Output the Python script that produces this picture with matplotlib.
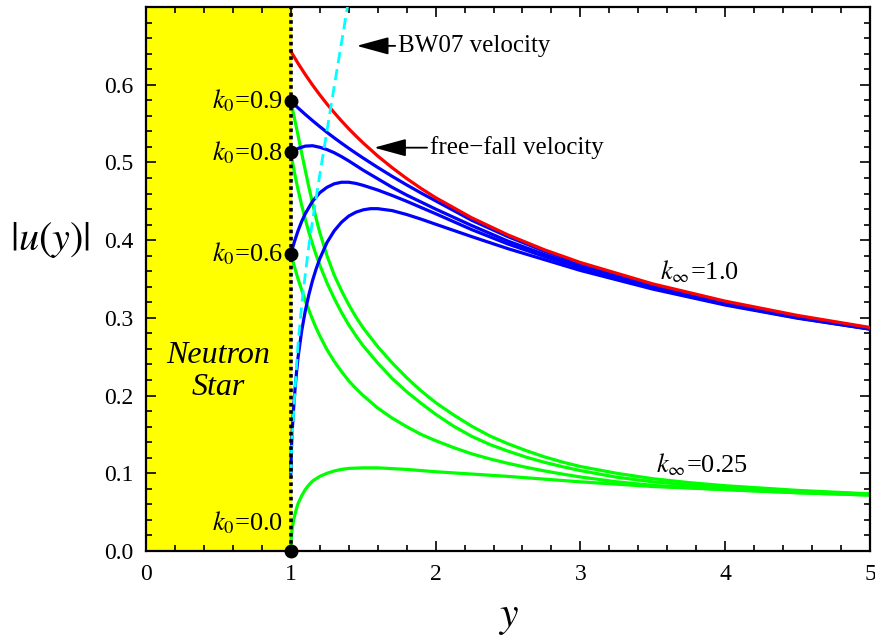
import numpy as np
import matplotlib.pyplot as plt
from matplotlib.ticker import MultipleLocator

plt.rcParams['font.family'] = ['Liberation Serif', 'DejaVu Serif']
plt.rcParams['mathtext.fontset'] = 'stix'

# radial grid shared by the k_inf = 1.0 profiles
y_grid = [1.0, 1.05, 1.1, 1.15, 1.2, 1.25, 1.3, 1.35, 1.4, 1.45, 1.5, 1.6, 1.7,
          1.8, 1.9, 2.0, 2.25, 2.5, 2.75, 3.0, 3.5, 4.0, 4.5, 5.0]

# free-fall velocity
u_ff = [0.643, 0.6275, 0.6131, 0.5996, 0.5870, 0.5751, 0.5640, 0.5534, 0.5434,
        0.5340, 0.5250, 0.5083, 0.4932, 0.4793, 0.4665, 0.4547, 0.4287, 0.4067,
        0.3877, 0.3712, 0.3437, 0.3215, 0.3031, 0.2876]

# k_inf = 1.0 solutions
u_blue_09 = [0.579, 0.5702, 0.5618, 0.5538, 0.5461, 0.5387, 0.5316, 0.5248, 0.5182,
             0.5118, 0.5056, 0.4936, 0.4821, 0.4711, 0.4606, 0.4506, 0.4255, 0.4045,
             0.3858, 0.3695, 0.3422, 0.3203, 0.3021, 0.2868]
u_blue_08 = [0.513, 0.518, 0.521, 0.5215, 0.5195, 0.5165, 0.5125, 0.5075, 0.502,
             0.496, 0.490, 0.479, 0.468, 0.458, 0.449, 0.440, 0.4187, 0.3987,
             0.3817, 0.3662, 0.3397, 0.3185, 0.3011, 0.2861]
y_blue_06 = [1.0, 1.025, 1.05, 1.075, 1.1, 1.15, 1.2, 1.25, 1.3, 1.35, 1.4, 1.45,
             1.5, 1.6, 1.7, 1.8, 1.9, 2.0, 2.25, 2.5, 2.75, 3.0, 3.5, 4.0, 4.5, 5.0]
u_blue_06 = [0.382, 0.398, 0.412, 0.424, 0.434, 0.450, 0.461, 0.468, 0.4725, 0.4745,
             0.4745, 0.473, 0.4705, 0.4645, 0.4575, 0.450, 0.442, 0.434, 0.4135,
             0.395, 0.379, 0.364, 0.3385, 0.3175, 0.300, 0.2855]
y_blue_low = [1.0, 1.005, 1.01, 1.02, 1.03, 1.04, 1.05, 1.075, 1.1, 1.125, 1.15,
              1.175, 1.2, 1.25, 1.3, 1.35, 1.4, 1.45, 1.5, 1.55, 1.6, 1.7, 1.8, 1.9,
              2.0, 2.25, 2.5, 2.75, 3.0, 3.5, 4.0, 4.5, 5.0]
u_blue_low = [0.100, 0.135, 0.155, 0.185, 0.210, 0.231, 0.249, 0.283, 0.309, 0.330,
              0.348, 0.363, 0.376, 0.397, 0.412, 0.423, 0.431, 0.436, 0.439, 0.4405,
              0.4405, 0.438, 0.433, 0.427, 0.4205, 0.4045, 0.389, 0.375, 0.361,
              0.337, 0.3165, 0.2995, 0.2855]

# k_inf = 0.25 solutions
y_green = [1.0, 1.025, 1.05, 1.075, 1.1, 1.125, 1.15, 1.175, 1.2, 1.25, 1.3, 1.35,
           1.4, 1.45, 1.5, 1.6, 1.7, 1.8, 1.9, 2.0, 2.125, 2.25, 2.375, 2.5, 2.625,
           2.75, 2.875, 3.0, 3.25, 3.5, 3.75, 4.0, 4.5, 5.0]
u_green_09 = [0.579, 0.557, 0.535, 0.512, 0.490, 0.468, 0.448, 0.428, 0.410, 0.380,
              0.355, 0.335, 0.317, 0.301, 0.287, 0.263, 0.242, 0.223, 0.206, 0.191,
              0.175, 0.1605, 0.148, 0.138, 0.1292, 0.1212, 0.1145, 0.1087,
              0.100, 0.093, 0.088, 0.084, 0.078, 0.0735]
u_green_08 = [0.513, 0.487, 0.465, 0.445, 0.427, 0.410, 0.395, 0.381, 0.368, 0.345,
              0.325, 0.307, 0.291, 0.277, 0.264, 0.242, 0.222, 0.205, 0.190, 0.176,
              0.1605, 0.1475, 0.137, 0.1285, 0.1208, 0.1142, 0.1085, 0.1035,
              0.095, 0.089, 0.085, 0.081, 0.077, 0.073]
u_green_06 = [0.382, 0.366, 0.350, 0.336, 0.322, 0.310, 0.298, 0.287, 0.277, 0.259,
              0.244, 0.231, 0.219, 0.209, 0.200, 0.184, 0.171, 0.160, 0.150, 0.142,
              0.133, 0.125, 0.1185, 0.1128, 0.1077, 0.1031, 0.0990, 0.0953,
              0.089, 0.0845, 0.0815, 0.079, 0.075, 0.072]
y_green_00 = [1.0, 1.002, 1.005, 1.01, 1.02, 1.03, 1.04, 1.05, 1.075, 1.1, 1.125,
              1.15, 1.2, 1.25, 1.3, 1.35, 1.4, 1.5, 1.6, 1.7, 1.8, 1.9, 2.0, 2.25,
              2.5, 2.75, 3.0, 3.5, 4.0, 4.5, 5.0]
u_green_00 = [0.0, 0.012, 0.020, 0.029, 0.040, 0.048, 0.055, 0.061, 0.071, 0.079,
              0.085, 0.090, 0.096, 0.100, 0.103, 0.105, 0.1063, 0.107, 0.107, 0.106,
              0.105, 0.1035, 0.102, 0.099, 0.096, 0.0925, 0.089, 0.083, 0.079,
              0.075, 0.072]

# BW07 velocity
y_bw07 = [1.0, 1.005, 1.01, 1.02, 1.03, 1.04, 1.05, 1.075, 1.1, 1.125, 1.15, 1.2,
          1.25, 1.3, 1.35, 1.4]
u_bw07 = [0.100, 0.128, 0.148, 0.180, 0.210, 0.239, 0.266, 0.316, 0.356, 0.393,
          0.425, 0.484, 0.541, 0.598, 0.654, 0.710]

# starting values at the stellar surface
k0_labels = ['0.9', '0.8', '0.6', '0.0']
u_start = [0.579, 0.513, 0.382, 0.0]

fig = plt.figure(figsize=(8.75, 6.39), dpi=100)
ax = fig.add_axes([146 / 875, 1 - 551 / 639, 724 / 875, 544 / 639])

ax.axvspan(0, 1, color='#FFFF00', zorder=0)

lw = 2.3
for u in (u_green_09, u_green_08, u_green_06):
    ax.plot(y_green, u, color='#00FF00', lw=lw, zorder=2)
ax.plot(y_green_00, u_green_00, color='#00FF00', lw=lw, zorder=2)
ax.plot(y_grid, u_blue_09, color='#0000FF', lw=lw, zorder=3)
ax.plot(y_grid, u_blue_08, color='#0000FF', lw=lw, zorder=3)
ax.plot(y_blue_06, u_blue_06, color='#0000FF', lw=lw, zorder=3)
ax.plot(y_blue_low, u_blue_low, color='#0000FF', lw=lw, zorder=3)
ax.plot(y_grid, u_ff, color='#FF0000', lw=lw, zorder=4)
ax.plot(y_bw07, u_bw07, color='#00FFFF', lw=2.0, ls=(0, (4, 2.2)), zorder=5)

ax.axvline(1, color='black', lw=2.6, ls=(0, (1, 1)), zorder=6)
ax.plot([1] * len(u_start), u_start, 'o', color='black', ms=9, zorder=7, clip_on=False)

for lab, u in zip(k0_labels, u_start):
    yy = u if u > 0 else 0.036
    ax.text(0.945, yy, r'$k_0$=' + lab, ha='right', va='center', fontsize=19)

ax.text(0.5, 0.231, 'Neutron\nStar', ha='center', va='center', fontsize=23,
        style='italic', linespacing=1.1)

arrow = dict(arrowstyle='-|>,head_length=1.1,head_width=0.3', color='black',
             lw=1.3, shrinkA=0, shrinkB=0)
ax.annotate('BW07 velocity', xy=(1.455, 0.650), xytext=(1.74, 0.650),
            va='center', fontsize=18, arrowprops=arrow)
ax.annotate('free\u2212fall velocity', xy=(1.575, 0.519), xytext=(1.96, 0.519),
            va='center', fontsize=18, arrowprops=arrow)

ax.text(3.55, 0.359, r'$k_\infty$=1.0', ha='left', va='center', fontsize=19)
ax.text(3.52, 0.111, r'$k_\infty$=0.25', ha='left', va='center', fontsize=19)

ax.set_xlim(0, 5)
ax.set_ylim(0, 0.7)
ax.set_xticks([0, 1, 2, 3, 4, 5])
ax.set_yticks([0.0, 0.1, 0.2, 0.3, 0.4, 0.5, 0.6])
ax.set_yticklabels(['0.0', '0.1', '0.2', '0.3', '0.4', '0.5', '0.6'])
ax.xaxis.set_minor_locator(MultipleLocator(0.2))
ax.yaxis.set_minor_locator(MultipleLocator(0.02))
ax.tick_params(which='both', direction='in', top=True, right=True, width=1.2,
               labelsize=17, pad=9)
ax.tick_params(which='major', length=7)
ax.tick_params(which='minor', length=4)
for s in ax.spines.values():
    s.set_linewidth(1.6)

fig.text(508 / 875, 1 - 618 / 639, r'$y$', ha='center', va='center', fontsize=30)
fig.text(50 / 875, 1 - 240 / 639, r'$|u(y)|$', ha='center', va='center', fontsize=29)

fig.savefig('out.png', dpi=100)
